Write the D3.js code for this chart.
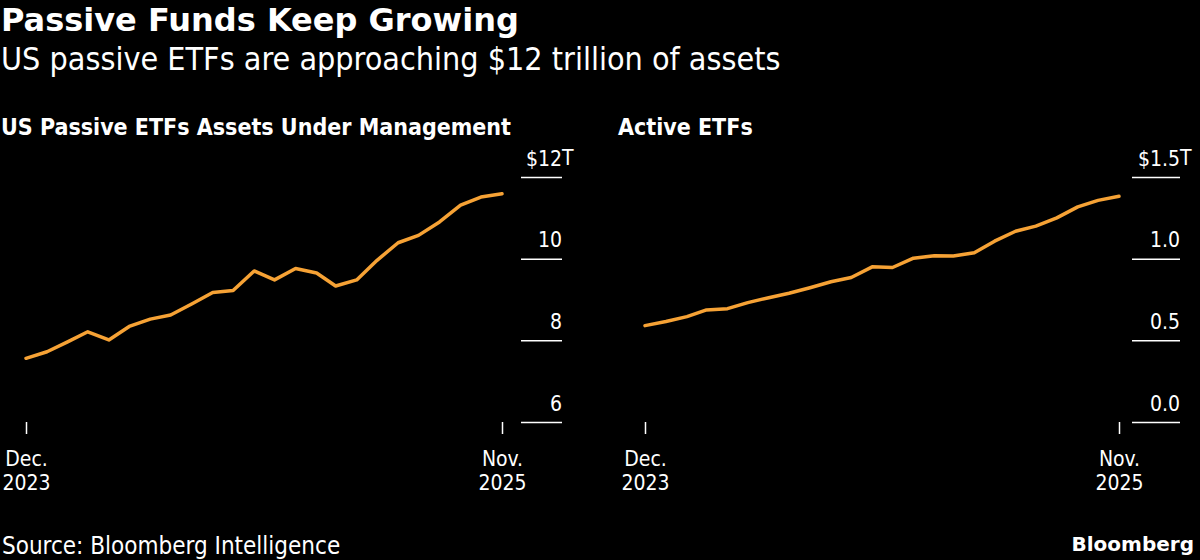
<!DOCTYPE html>
<html>
<head>
<meta charset="utf-8">
<script src="https://cdn.jsdelivr.net/npm/d3@7"></script>
<style>
  html, body { margin: 0; padding: 0; background: #000; }
  svg { display: block; }
  text { fill: #fff; font-family: "DejaVu Sans Condensed", "DejaVu Sans", sans-serif; }
</style>
</head>
<body>
<div id="chart"></div>
<script>
// monthly data, Dec 2023 .. Nov 2025
const months = d3.timeMonths(new Date(2023, 11, 1), new Date(2025, 11, 1));

// US passive ETF AUM, $ trillions
const passive = [7.56, 7.72, 7.97, 8.21, 8.01, 8.34, 8.52, 8.62, 8.89, 9.17, 9.22, 9.70,
  9.48, 9.76, 9.65, 9.33, 9.48, 9.96, 10.39, 10.57, 10.90, 11.31, 11.51, 11.59];

// active ETFs, $ trillions
const active = [0.590, 0.615, 0.645, 0.686, 0.694, 0.731, 0.761, 0.788, 0.822, 0.859, 0.885, 0.950,
  0.946, 1.003, 1.018, 1.016, 1.036, 1.107, 1.168, 1.199, 1.250, 1.317, 1.357, 1.382];

const passiveTicks = [6, 8, 10, 12];
const activeTicks = [0, 0.5, 1.0, 1.5];

const width = 1200;
const height = 560;

const svg = d3.select("#chart")
  .append("svg")
  .attr("width", width)
  .attr("height", height)
  .style("background", "#000");

// header
svg.append("text")
  .attr("x", 1).attr("y", 31)
  .style("font-family", "'DejaVu Sans', sans-serif")
  .style("font-weight", "bold")
  .style("font-size", "32px")
  .text("Passive Funds Keep Growing");

svg.append("text")
  .attr("x", 1).attr("y", 70)
  .style("font-size", "32px")
  .text("US passive ETFs are approaching $12 trillion of assets");

// one panel per series
function panel(opts) {
  const x = d3.scaleTime()
    .domain(d3.extent(months))
    .range([opts.x0, opts.x1]);

  const y = d3.scaleLinear()
    .domain(opts.domain)
    .range([422, 177]);

  svg.append("text")
    .attr("x", opts.titleX).attr("y", 135)
    .style("font-weight", "bold")
    .style("font-size", "23px")
    .text(opts.title);

  // y axis: short gridlines on the right with labels above
  const yAxis = svg.append("g")
    .attr("transform", `translate(${opts.gx1},0)`)
    .call(d3.axisLeft(y)
      .tickValues(opts.ticks)
      .tickSize(opts.gx1 - opts.gx0)
      .tickFormat(opts.fmt));

  yAxis.select(".domain").remove();
  yAxis.selectAll(".tick line").attr("stroke", "#fff").attr("stroke-width", 1.5);
  yAxis.selectAll(".tick text")
    .attr("x", 0)
    .attr("dy", 0)
    .attr("y", -12)
    .attr("text-anchor", "end")
    .style("font-family", null)
    .style("font-size", "21px")
    .attr("fill", "#fff");

  // unit suffix hangs past the gridline on the top label
  const top = opts.ticks[opts.ticks.length - 1];
  yAxis.append("text")
    .attr("x", 0)
    .attr("y", y(top) - 12)
    .attr("text-anchor", "start")
    .style("font-size", "21px")
    .text("T");

  // x axis: first and last month only
  const xAxis = svg.append("g")
    .attr("transform", "translate(0,422)")
    .call(d3.axisBottom(x)
      .tickValues([months[0], months[months.length - 1]])
      .tickSize(12)
      .tickFormat(""));

  xAxis.select(".domain").remove();
  xAxis.selectAll(".tick line").attr("stroke", "#fff").attr("stroke-width", 1.5);
  xAxis.selectAll(".tick").each(function(d) {
    const t = d3.select(this).append("text")
      .attr("text-anchor", "middle")
      .style("font-size", "21px");
    t.append("tspan").attr("x", 0).attr("y", 44).text(d3.timeFormat("%b.")(d));
    t.append("tspan").attr("x", 0).attr("y", 68).text(d3.timeFormat("%Y")(d));
  });

  const line = d3.line()
    .x((d, i) => x(months[i]))
    .y(d => y(d));

  svg.append("path")
    .datum(opts.values)
    .attr("fill", "none")
    .attr("stroke", "#f6a235")
    .attr("stroke-width", 3.5)
    .attr("stroke-linejoin", "round")
    .attr("stroke-linecap", "round")
    .attr("d", line);
}

panel({
  title: "US Passive ETFs Assets Under Management",
  titleX: 1,
  values: passive,
  domain: [6, 12],
  ticks: passiveTicks,
  fmt: d => (d === 12 ? "$" : "") + d,
  x0: 26, x1: 502,
  gx0: 521, gx1: 562
});

panel({
  title: "Active ETFs",
  titleX: 618,
  values: active,
  domain: [0, 1.5],
  ticks: activeTicks,
  fmt: d => (d === 1.5 ? "$" : "") + d3.format(".1f")(d),
  x0: 645, x1: 1119,
  gx0: 1132, gx1: 1180
});

// footer
svg.append("text")
  .attr("x", 2).attr("y", 554)
  .style("font-size", "24px")
  .text("Source: Bloomberg Intelligence");

svg.append("text")
  .attr("x", 1194).attr("y", 551)
  .attr("text-anchor", "end")
  .style("font-family", "'DejaVu Sans', sans-serif")
  .style("font-weight", "bold")
  .style("font-size", "20px")
  .text("Bloomberg");
</script>
</body>
</html>
